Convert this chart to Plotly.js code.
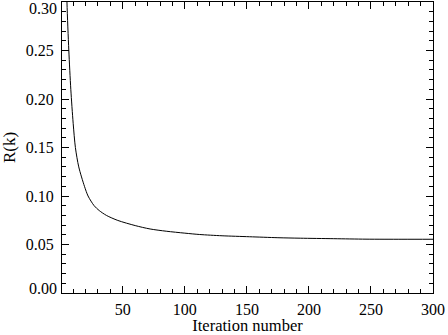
<!DOCTYPE html>
<html>
<head>
<meta charset="utf-8">
<script src="https://cdn.plot.ly/plotly-3.0.1.min.js"></script>
<style>
  html, body { margin: 0; padding: 0; background: #fff; }
  #chart { width: 448px; height: 335px; }
</style>
</head>
<body>
<div id="chart"></div>
<script>
// values
const iteration = [4, 5, 6.5, 8.1, 10, 11.8, 14.5, 19.1, 22, 26.9, 31, 36.8, 46, 60, 72, 85, 100, 112, 130, 152, 175, 193, 220, 246, 275, 300];
const residual = [0.37, 0.30, 0.25, 0.21, 0.175, 0.15, 0.13, 0.11, 0.10, 0.09, 0.085, 0.08, 0.0748, 0.0695, 0.066, 0.0637, 0.0617, 0.0603, 0.059, 0.058, 0.057, 0.0565, 0.056, 0.0555, 0.0554, 0.0554];

const xTicks = [50, 100, 150, 200, 250, 300];
const yTicks = [0.05, 0.10, 0.15, 0.20, 0.25];
const yTickText = ['0.05', '0.10', '0.15', '0.20', '0.25'];

const data = [
  {
    type: 'scatter',
    mode: 'lines',
    x: iteration,
    y: residual,
    line: {color: '#000', width: 1, shape: 'spline', smoothing: 0.8},
    hoverinfo: 'skip'
  },
  // empty traces so the two end-label axes get drawn
  {type: 'scatter', x: [], y: [], yaxis: 'y2', hoverinfo: 'skip'},
  {type: 'scatter', x: [], y: [], yaxis: 'y3', hoverinfo: 'skip'}
];

const axisStyle = {
  showline: true,
  linecolor: '#000',
  linewidth: 1,
  mirror: 'ticks',
  ticks: 'inside',
  ticklen: 7,
  tickcolor: '#000',
  showgrid: false,
  zeroline: false
};

const endAxis = {
  overlaying: 'y', side: 'left', range: [0, 0.30],
  showgrid: false, zeroline: false, showline: false, ticks: '',
  ticklabelstandoff: 4, ticklabeloverflow: 'allow'
};

const layout = {
  width: 448,
  height: 335,
  margin: {l: 62, r: 15, t: 2, b: 42},
  paper_bgcolor: '#fff',
  plot_bgcolor: '#fff',
  showlegend: false,
  font: {family: 'Liberation Serif', size: 16, color: '#000'},
  xaxis: Object.assign({}, axisStyle, {
    range: [1, 300],
    tickvals: xTicks,
    minor: {dtick: 10, tick0: 0, ticks: 'inside', ticklen: 4, tickcolor: '#000'},
    ticklabelstandoff: 2,
    ticklabeloverflow: 'allow',
    title: {text: 'Iteration number', standoff: 1, font: {size: 16.5}}
  }),
  yaxis: Object.assign({}, axisStyle, {
    range: [0, 0.30],
    tickvals: yTicks,
    ticktext: yTickText,
    minor: {dtick: 0.01, tick0: 0, ticks: 'inside', ticklen: 4, tickcolor: '#000'},
    ticklabelstandoff: 4,
    title: {text: 'R(k)', standoff: 8, font: {size: 17}}
  }),
  // end labels sit a little inside the frame, as in the reference
  yaxis2: Object.assign({}, endAxis, {tickvals: [0.30], ticktext: ['0.30'], ticklabelshift: 6}),
  yaxis3: Object.assign({}, endAxis, {tickvals: [0], ticktext: ['0.00'], ticklabelshift: -5})
};

Plotly.newPlot('chart', data, layout, {displayModeBar: false});
</script>
</body>
</html>
